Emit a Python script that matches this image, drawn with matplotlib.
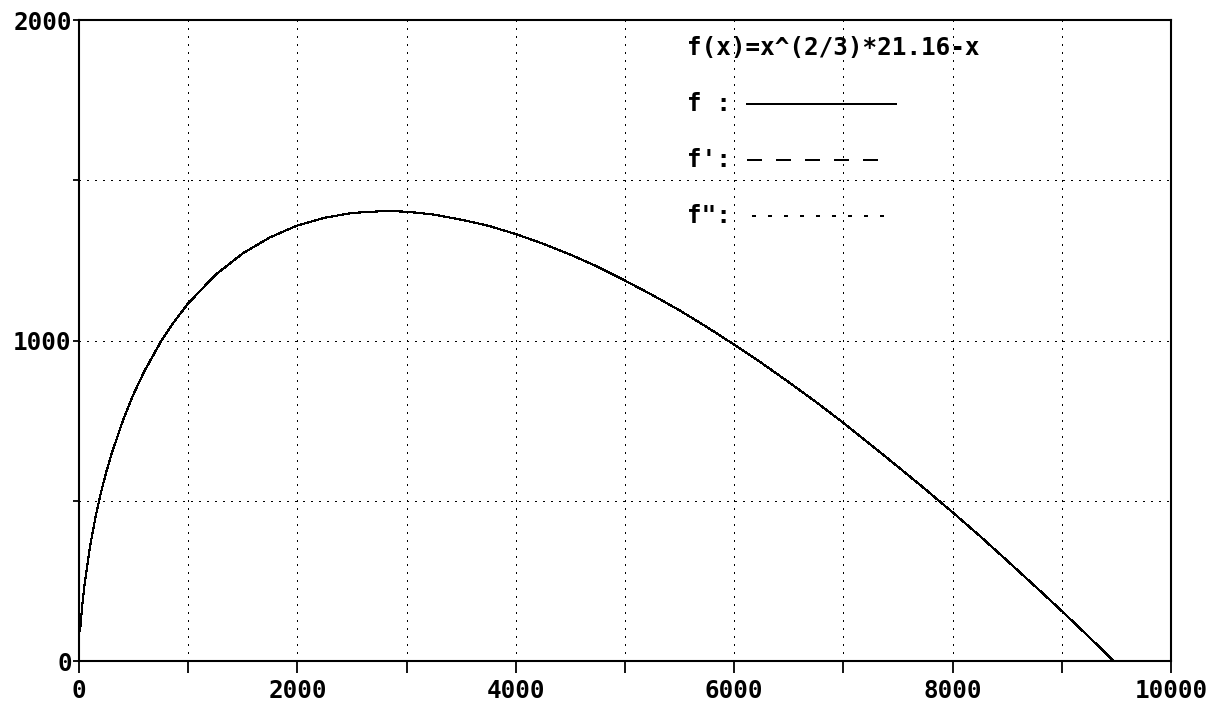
import numpy as np
import matplotlib
matplotlib.use("Agg")
import matplotlib.pyplot as plt

x = [10, 20, 30, 50, 100, 150, 200, 250, 300, 400, 500, 600, 750, 850, 1000,
     1250, 1500, 1750, 2000, 2250, 2500, 2800, 3000, 3250, 3500, 3750, 4000,
     4250, 4500, 4750, 5000, 5250, 5500, 5750, 6000, 6250, 6500, 6750, 7000,
     7250, 7500, 7750, 8000, 8250, 8500, 8750, 9000, 9250, 9474]
y = [95, 136, 175, 237, 356, 447, 524, 590, 648, 748, 833, 905, 997, 1049, 1116,
     1205, 1272, 1322, 1359, 1383, 1398, 1404, 1402, 1393, 1377, 1358, 1332,
     1302, 1268, 1230, 1187, 1142, 1094, 1042, 987, 930, 870, 808, 743,
     675, 606, 536, 464, 390, 313, 235, 156, 75, 0]

xticks = [0, 1000, 2000, 3000, 4000, 5000, 6000, 7000, 8000, 9000, 10000]
xlabels = ['0', '', '2000', '', '4000', '', '6000', '', '8000', '', '10000']
yticks = [0, 500, 1000, 1500, 2000]
ylabels = ['0', '', '1000', '', '2000']

title = 'f(x)=x^(2/3)*21.16-x'
legend_labels = ['f :', "f':", 'f":']

plt.rcParams['font.family'] = 'DejaVu Sans Mono'
plt.rcParams['font.weight'] = 'bold'

fig = plt.figure(figsize=(12.19, 7.02), dpi=100)
ax = fig.add_axes([0.0648, 0.0584, 0.8958, 0.9131])

ax.plot(x, y, color='black', lw=0.8, antialiased=False)

ax.set_xlim(0, 10000)
ax.set_ylim(0, 2000)
ax.set_xticks(xticks)
ax.set_xticklabels(xlabels, fontsize=17.5, fontweight='bold')
ax.set_yticks(yticks)
ax.set_yticklabels(ylabels, fontsize=17.5, fontweight='bold')
ax.tick_params(axis='x', direction='out', length=8.6, width=1.3, pad=4)
ax.tick_params(axis='y', direction='out', length=4.3, width=1.3, pad=1)

ax.grid(True, color='black', linestyle=(0, (1, 4.7)), lw=1.0, antialiased=False)
for s in ax.spines.values():
    s.set_linewidth(1.5)

# legend drawn by hand like the original
ax.text(0.5568, 0.9563, title, transform=ax.transAxes, fontsize=17.5,
        fontweight='bold', va='center', ha='left')
ys = [0.869, 0.7816, 0.694]
styles = ['-', (0, (9, 9)), (0, (1.8, 7.2))]
ends = [0.748, 0.737, 0.745]
starts = [0.6117, 0.6117, 0.6163]
for lab, yy, st, x0, x1 in zip(legend_labels, ys, styles, starts, ends):
    ax.text(0.5568, yy, lab, transform=ax.transAxes, fontsize=17.5,
            fontweight='bold', va='center', ha='left')
    ax.plot([x0, x1], [yy, yy], transform=ax.transAxes, color='black',
            lw=1.2, linestyle=st, clip_on=False, antialiased=False)

fig.savefig('out.png', dpi=100)
